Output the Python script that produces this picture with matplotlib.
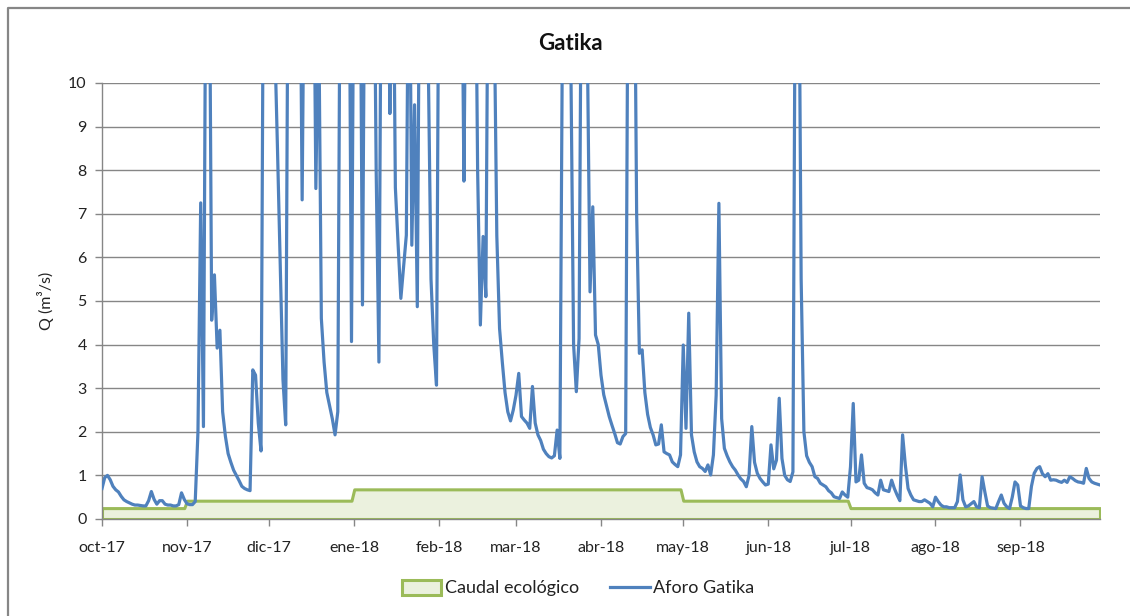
import matplotlib
matplotlib.use('Agg')
import matplotlib.pyplot as plt
from matplotlib.patches import Patch
from matplotlib.lines import Line2D
import numpy as np
import pandas as pd

plt.rcParams['font.family'] = ['Lato', 'DejaVu Sans']

# Daily flow at Gatika gauge (m3/s), 1 Oct 2017 - 30 Sep 2018, one list per month.
# Values above 10 are off the chart scale; they are kept at 15 and clipped by the axis.
q_oct = [0.7, 0.95, 1.0, 0.9, 0.75, 0.67, 0.62, 0.52, 0.44, 0.4, 0.37, 0.34, 0.32, 0.32, 0.31, 0.3,
         0.3, 0.42, 0.63, 0.45, 0.34, 0.42, 0.42, 0.34, 0.32, 0.32, 0.3, 0.3, 0.33, 0.6, 0.45]
q_nov = [0.35, 0.33, 0.33, 0.4, 2.0, 7.25, 2.12, 15, 15, 4.56, 5.6, 3.92, 4.33, 2.46, 1.9, 1.5,
         1.3, 1.12, 1.0, 0.88, 0.75, 0.7, 0.67, 0.65, 3.42, 3.3, 2.2, 1.56, 15, 15]
q_dic = [15, 15, 11, 8.5, 5.8, 3.2, 2.16, 15, 15, 15, 15, 15, 7.32, 15, 15, 15, 15, 7.58, 12, 4.6,
         3.6, 2.9, 2.6, 2.3, 1.93, 2.46, 15, 15, 15, 15, 4.07]
q_ene = [15, 15, 15, 4.91, 15, 15, 15, 15, 8, 3.6, 15, 15, 15, 9.3, 15, 7.6, 6.3, 5.06, 5.8, 6.51,
         15, 6.28, 9.5, 4.87, 15, 15, 15, 10.5, 5.5, 4.0, 3.07]
q_feb = [15, 15, 15, 15, 15, 15, 15, 15, 15, 7.75, 15, 15, 15, 15, 8, 4.45, 6.48, 5.1, 15, 15,
         12, 6.5, 4.37, 3.6, 2.9, 2.46, 2.25, 2.5]
q_mar = [2.84, 3.34, 2.35, 2.27, 2.2, 2.08, 3.04, 2.2, 1.93, 1.8, 1.6, 1.5, 1.43, 1.4, 1.45, 2.04,
         1.39, 12, 15, 15, 10.5, 4.0, 2.92, 4.14, 15, 15, 11, 5.21, 7.16, 4.22, 4.0]
q_abr = [3.3, 2.85, 2.6, 2.35, 2.15, 1.96, 1.75, 1.72, 1.89, 1.96, 15, 15, 15, 7, 3.8, 3.88, 2.9,
         2.4, 2.1, 1.93, 1.7, 1.72, 2.16, 1.54, 1.5, 1.47, 1.31, 1.25, 1.2, 1.47]
q_may = [3.99, 2.08, 4.72, 1.93, 1.54, 1.31, 1.2, 1.16, 1.09, 1.24, 1.01, 1.47, 2.84, 7.24, 2.3,
         1.62, 1.45, 1.31, 1.2, 1.12, 1.01, 0.92, 0.86, 0.74, 1.0, 2.12, 1.3, 1.05, 0.93, 0.85, 0.78]
q_jun = [0.8, 1.7, 1.15, 1.35, 2.77, 1.39, 1.0, 0.9, 0.86, 1.08, 15, 15, 5.5, 2.0, 1.45, 1.3, 1.2,
         0.97, 0.93, 0.82, 0.78, 0.74, 0.65, 0.6, 0.51, 0.49, 0.47, 0.62, 0.55, 0.5]
q_jul = [1.2, 2.65, 0.85, 0.89, 1.47, 0.82, 0.72, 0.7, 0.67, 0.6, 0.55, 0.89, 0.67, 0.65, 0.63,
         0.89, 0.7, 0.55, 0.42, 1.93, 1.24, 0.7, 0.55, 0.44, 0.42, 0.4, 0.4, 0.44, 0.4, 0.36, 0.28]
q_ago = [0.5, 0.4, 0.32, 0.28, 0.28, 0.26, 0.26, 0.26, 0.4, 1.01, 0.44, 0.28, 0.3, 0.35, 0.4, 0.28,
         0.26, 0.97, 0.62, 0.3, 0.26, 0.25, 0.24, 0.4, 0.55, 0.36, 0.28, 0.24, 0.5, 0.85, 0.78]
q_sep = [0.3, 0.26, 0.24, 0.24, 0.75, 1.05, 1.16, 1.2, 1.04, 0.97, 1.04, 0.89, 0.9, 0.89, 0.86,
         0.84, 0.89, 0.84, 0.97, 0.93, 0.88, 0.85, 0.84, 0.82, 1.16, 0.93, 0.85, 0.82, 0.8, 0.78]

# Ecological flow regime: value in force from each start date
eco_start = ['2017-10-01', '2017-11-01', '2018-01-01', '2018-05-01', '2018-07-01']
eco_value = [0.25, 0.42, 0.68, 0.42, 0.25]

month_labels = ['oct-17', 'nov-17', 'dic-17', 'ene-18', 'feb-18', 'mar-18',
                'abr-18', 'may-18', 'jun-18', 'jul-18', 'ago-18', 'sep-18']

aforo = q_oct + q_nov + q_dic + q_ene + q_feb + q_mar + q_abr + q_may + q_jun + q_jul + q_ago + q_sep
dates = pd.date_range('2017-10-01', '2018-09-30', freq='D')

eco = pd.Series(np.nan, index=dates)
for s, v in zip(eco_start, eco_value):
    eco[pd.Timestamp(s)] = v
eco = eco.ffill()

grey = '#868686'

fig = plt.figure(figsize=(11.3, 6.16), dpi=100)
ax = fig.add_axes([102 / 1130, 1 - 519 / 616, 998 / 1130, 436 / 616])

ax.fill_between(dates, 0, eco.values, facecolor='#EBF1DE', edgecolor='#9BBB59',
                linewidth=2.2, zorder=2)
ax.plot(dates, aforo, color='#4F81BD', linewidth=2.3, zorder=3)

ax.set_xlim(dates[0], dates[-1])
ax.set_ylim(0, 10)
ax.set_yticks(range(0, 11))
ax.yaxis.grid(True, color=grey, linewidth=1)
ax.set_axisbelow(True)

ax.set_xticks(pd.date_range('2017-10-01', '2018-09-01', freq='MS'))
ax.set_xticklabels(month_labels)

for side in ('top', 'right'):
    ax.spines[side].set_visible(False)
for side in ('left', 'bottom'):
    ax.spines[side].set_color(grey)
    ax.spines[side].set_linewidth(1)
ax.tick_params(axis='both', colors=grey, length=5, width=1, labelsize=11.5,
               labelcolor='#222222')
ax.tick_params(axis='y', pad=6)
ax.tick_params(axis='x', pad=11)

ax.set_ylabel('Q (m³/s)', fontsize=11.5, color='#222222', labelpad=10)
fig.text(0.5045, 1 - 43 / 616, 'Gatika', ha='center', va='center',
         fontsize=16, fontweight='bold', color='#111111')

handles = [Patch(facecolor='#EBF1DE', edgecolor='#9BBB59', linewidth=2.2),
           Line2D([0], [0], color='#4F81BD', linewidth=2.3)]
fig.legend(handles, ['Caudal ecológico', 'Aforo Gatika'], loc='center',
           bbox_to_anchor=(578 / 1130, 1 - 588 / 616), ncol=2, frameon=False,
           fontsize=13, handlelength=2.2, handleheight=0.9, handletextpad=0.2,
           columnspacing=1.7, labelcolor='#222222')

# outer chart border (left and top sides visible in the crop)
fig.add_artist(Line2D([7.5 / 1130, 7.5 / 1130, 1.0], [0.0, 1 - 7.5 / 616, 1 - 7.5 / 616],
                      transform=fig.transFigure, color=grey, linewidth=1.6))

fig.savefig('out.png', dpi=100)
